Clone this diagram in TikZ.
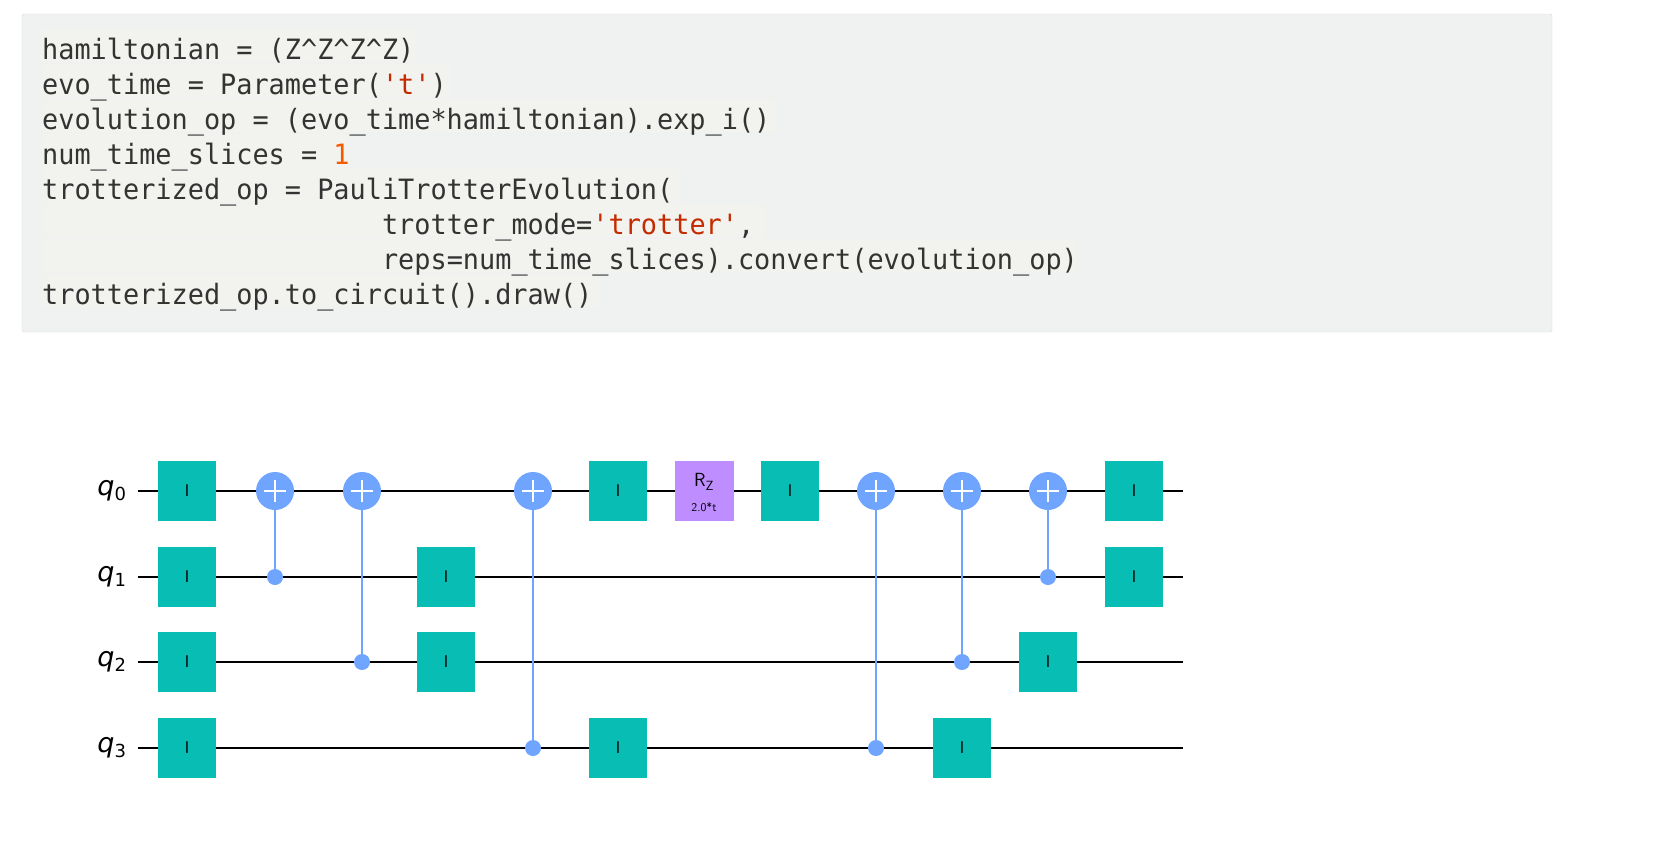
\documentclass[tikz,border=0pt]{standalone}
\usepackage{fontspec}
\setmainfont{DejaVu Sans}
\newfontfamily\codefont[FakeStretch=0.96]{DejaVu Sans Mono}
\begin{document}
\begin{tikzpicture}[x=1pt,y=-1pt,
  code/.style={anchor=base west,inner sep=0pt,font=\codefont\fontsize{28}{28}\selectfont,text=black!80},
  igate/.style={fill=teal1,minimum width=58pt,minimum height=60pt,inner sep=0pt,font=\sffamily\fontsize{17}{17}\selectfont},
  tgt/.style={circle,fill=qblue,minimum size=38pt,inner sep=0pt},
  ctl/.style={circle,fill=qblue,minimum size=16pt,inner sep=0pt},
  wire/.style={line width=2.2pt,black},
  cx/.style={qblue,line width=2pt},
  lbl/.style={anchor=east,font=\itshape\fontsize{27}{27}\selectfont}]
\definecolor{teal1}{HTML}{08BDB4}
\definecolor{qblue}{HTML}{6FA4FF}
\definecolor{rzc}{HTML}{BE8DFF}
\definecolor{codebg}{HTML}{F0F2F2}
\definecolor{hl}{HTML}{F2F2EE}
\definecolor{strc}{HTML}{C42B00}
\definecolor{numc}{HTML}{F55A00}
\fill[white] (0,0) rectangle (1656,852);
\draw[fill=codebg,draw=black!15,rounded corners=2pt] (22,14) rectangle (1552,332);
\foreach \y/\w in {59/415,94/450,129/775,164/350,199/680,234/765,269/1075,304/600}{
  \fill[hl] (42,\y-30) rectangle (\w,\y+3);
}
\node[code] (l1) at (42,59) {hamiltonian = (Z\textasciicircum Z\textasciicircum Z\textasciicircum Z)};
\node[code] (l2) at (42,94) {evo\_time = Parameter(\textcolor{strc}{'t'})};
\node[code] (l3) at (42,129) {evolution\_op = (evo\_time*hamiltonian).exp\_i()};
\node[code] (l4) at (42,164) {num\_time\_slices = \textcolor{numc}{1}};
\node[code] (l5) at (42,199) {trotterized\_op = PauliTrotterEvolution(};
\node[code] (l6) at (42,234) {\phantom{trotterized\_op = Paul}trotter\_mode=\textcolor{strc}{'trotter'},};
\node[code] (l7) at (42,269) {\phantom{trotterized\_op = Paul}reps=num\_time\_slices).convert(evolution\_op)};
\node[code] (l8) at (42,304) {trotterized\_op.to\_circuit().draw()};
% wires
\foreach \i/\y in {0/491,1/577,2/662,3/748}{
  \coordinate (ws\i) at (138,\y); \coordinate (we\i) at (1183,\y);
  \draw[wire] (ws\i) -- (we\i);
  \node[lbl] (q\i) at (130,\y) {q\textsubscript{\upshape\fontsize{18}{18}\selectfont\i}};
}
% CNOTs
\foreach \n/\x/\ty/\cy in {a/275/491/577,b/362/491/662,c/533/491/748,d/876/491/748,e/962/491/662,f/1048/491/577}{
  \node[ctl] (c\n) at (\x,\cy) {};
  \node[tgt] (t\n) at (\x,\ty) {};
  \draw[cx] (c\n.center) -- (t\n.center);
  \draw[white,line width=2.4pt] (\x-11,\ty) -- (\x+11,\ty) (\x,\ty-11) -- (\x,\ty+11);
}
% I gates
\foreach \n/\x/\y in {a/187/491,b/187/577,c/187/662,d/187/748,e/446/577,f/446/662,g/618/491,h/618/748,i/790/491,j/1134/491,k/1134/577,l/1048/662,m/962/748}{
  \node[igate] (g\n) at (\x,\y) {I};
}
\node[fill=rzc,minimum width=59pt,minimum height=60pt,inner sep=0pt] (rz) at (704,491) {};
\node[font=\sffamily\fontsize{19}{19}\selectfont,inner sep=0pt] (rzt) at (704,482) {R\textsubscript{Z}};
\node[font=\sffamily\fontsize{12}{12}\selectfont,inner sep=0pt] (rzp) at (704,507) {2.0*t};
\pgfresetboundingbox
\useasboundingbox (0,0) rectangle (1656,852);
\end{tikzpicture}
\end{document}
